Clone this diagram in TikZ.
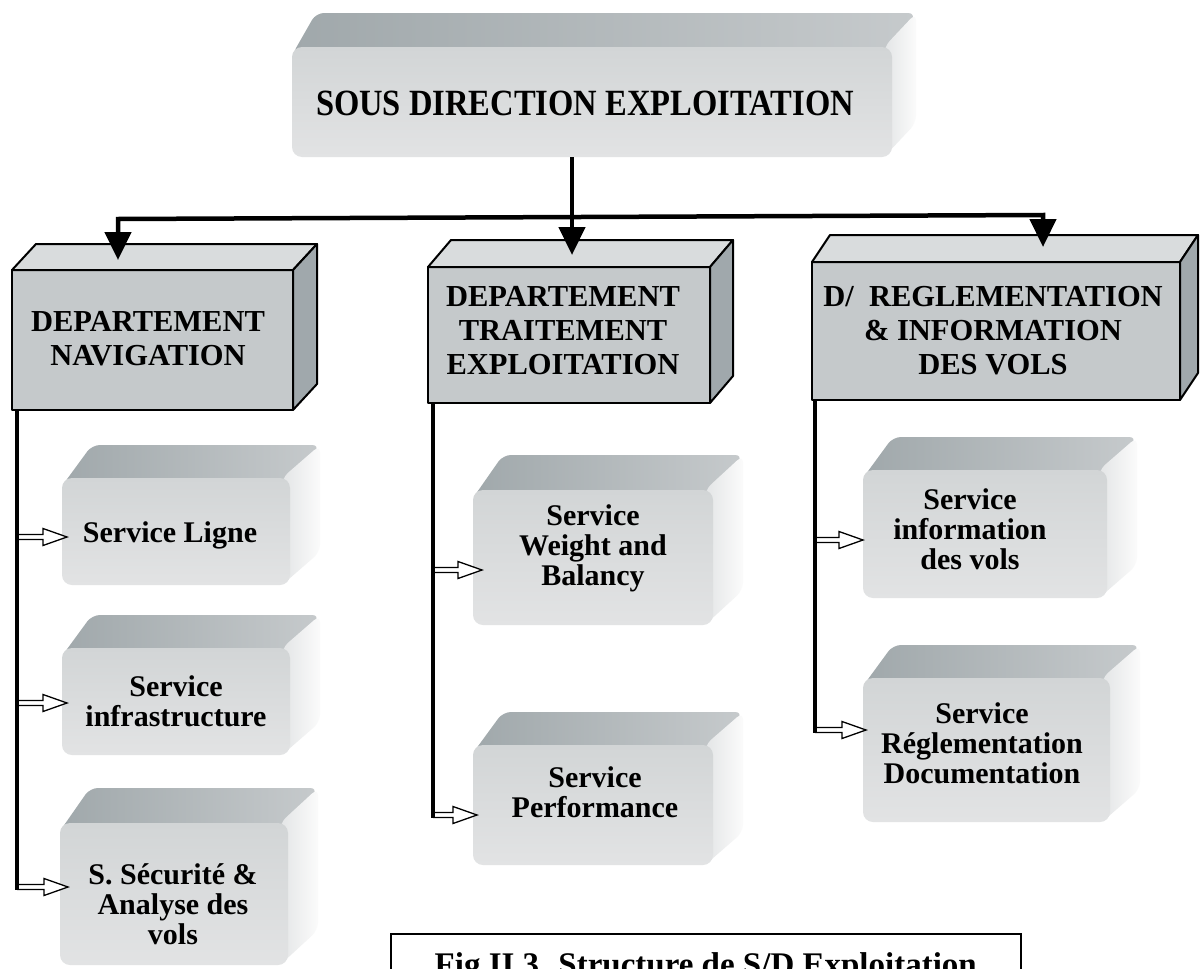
\documentclass[tikz,border=0pt]{standalone}
\usepackage{fontspec}
\setmainfont{Liberation Serif}
\usetikzlibrary{arrows.meta,calc,backgrounds}

\definecolor{deptfront}{HTML}{C5C9CB}
\definecolor{depttop}{HTML}{D9DCDD}
\definecolor{deptside}{HTML}{A0A8AC}
\definecolor{softfrontA}{HTML}{D2D5D6}
\definecolor{softfrontB}{HTML}{E2E3E4}
\definecolor{softtopA}{HTML}{A0A8AB}
\definecolor{softtopB}{HTML}{C6CACC}
\definecolor{softsideA}{HTML}{E3E5E6}
\definecolor{softsideB}{HTML}{FBFBFB}

\tikzset{
  lbl/.style={font=\bfseries\fontsize{30}{30}\selectfont, align=center, inner sep=0pt},
  deptlbl/.style={lbl, font=\bfseries\fontsize{30.5}{34}\selectfont},
  headlbl/.style={lbl, font=\bfseries\fontsize{37}{40}\selectfont, xscale=0.88},
  deptface/.style={draw=black, line width=2pt, line join=round, inner sep=0pt, outer sep=0pt},
  softface/.style={rounded corners=10pt, top color=softfrontA, bottom color=softfrontB,
                   inner sep=0pt, outer sep=0pt},
  conn/.style={line width=4.5pt, black, line join=miter},
  trunk/.style={line width=4.5pt, black},
  hollow/.style={draw=black, fill=white, line width=1.3pt, line join=miter},
  bigtip/.tip={Triangle[width=26pt,length=28pt]},
  captionbox/.style={draw=black, line width=1.5pt, inner sep=0pt,
                     font=\bfseries\fontsize{33}{36}\selectfont},
}

% outlined department block: name, x1, y1, x2, y2, depth x, depth y
\newcommand\deptbox[7]{%
  \node[deptface, fill=deptfront, anchor=north west,
        minimum width={(#4-#2)*1pt}, minimum height={(#5-#3)*1pt}] (#1) at (#2,#3) {};
  \draw[deptface, fill=depttop] (#1.north west) -- ($(#1.north west)+(#6,-#7)$)
      -- ($(#1.north east)+(#6,-#7)$) -- (#1.north east) -- cycle;
  \draw[deptface, fill=deptside] (#1.north east) -- ($(#1.north east)+(#6,-#7)$)
      -- ($(#1.south east)+(#6,-#7)$) -- (#1.south east) -- cycle;
}

% soft shaded block without outline: name, x1, y1, x2, y2, depth x, depth y
\newcommand\softbox[7]{%
  \node[softface, anchor=north west,
        minimum width={(#4-#2)*1pt}, minimum height={(#5-#3)*1pt}] (#1) at (#2,#3) {};
  \begin{scope}[on background layer]
    \shade[rounded corners=8pt, left color=softtopA, right color=softtopB]
      ($(#1.north west)+(0,8)$) -- ($(#1.north west)+(#6,-#7)$)
      -- ($(#1.north east)+(#6,-#7)$) -- ($(#1.north east)+(0,8)$) -- cycle;
    \shade[rounded corners=8pt, left color=softsideA, right color=softsideB]
      ($(#1.north east)+(-8,0)$) -- ($(#1.north east)+(#6,-#7)$)
      -- ($(#1.south east)+(#6,-#7)$) -- ($(#1.south east)+(-8,0)$) -- cycle;
  \end{scope}
}

% hollow block arrow from a trunk line to a tip point
\newcommand\openarrow[2]{%
  \draw[hollow] ($(#1 |- #2)+(0,-2.5)$) -- ($(#2)+(-24,-2.5)$) -- ($(#2)+(-24,-8.5)$)
    -- (#2) -- ($(#2)+(-24,8.5)$) -- ($(#2)+(-24,2.5)$) -- ($(#1 |- #2)+(0,2.5)$);
}

\begin{document}
\begin{tikzpicture}[x=1pt,y=-1pt]
\useasboundingbox (0,0) rectangle (1200,969);
\begin{scope}[on background layer]
  \fill[white] (0,0) rectangle (1200,969);
\end{scope}

% head of the structure
\softbox{T}{292}{47}{892}{157}{24}{34}
\node[headlbl] (tT) at (585,103) {SOUS DIRECTION EXPLOITATION};

% departments
\deptbox{D1}{12}{270}{293}{410}{24}{26}
\deptbox{D2}{428}{267}{710}{403}{23}{27}
\deptbox{D3}{812}{262}{1180}{400}{18}{27}
\node[deptlbl] (tD1) at (148,338.5) {DEPARTEMENT\\NAVIGATION};
\node[deptlbl] (tD2) at (563,331) {DEPARTEMENT\\TRAITEMENT\\EXPLOITATION};
\node[deptlbl] (tD3) at (993,331) {D/\ \ REGLEMENTATION\\\& INFORMATION\\DES VOLS};

% services
\softbox{sL}{62}{478}{290}{585}{30}{33}
\softbox{sI}{62}{648}{290}{755}{30}{33}
\softbox{sS}{60}{823}{288}{965}{30}{35}
\softbox{sW}{473}{490}{713}{625}{30}{35}
\softbox{sP}{473}{745}{713}{865}{30}{33}
\softbox{sN}{863}{470}{1107}{598}{30}{33}
\softbox{sR}{863}{678}{1110}{822}{30}{33}

\node[lbl] (tL) at (170,535) {Service Ligne};
\node[lbl] (tI) at (176,701) {Service\\infrastructure};
\node[lbl] (tS) at (173,904) {S. Sécurité \&\\Analyse des\\vols};
\node[lbl] (tW) at (593,548) {Service\\Weight and\\Balancy};
\node[lbl] (tP) at (595,792) {Service\\Performance};
\node[lbl] (tN) at (970,529) {Service\\information\\des vols};
\node[lbl] (tR) at (982,743) {Service\\Réglementation\\Documentation};

% distribution from the head to the departments
\coordinate (tip1) at (118,260);
\coordinate (bar1) at (118,219);
\coordinate (bar3) at (1043,215);
\coordinate (tip3) at (1043,247);
\coordinate (top2) at (572,157);
\coordinate (tip2) at (572,255);
\draw[conn, {bigtip}-{bigtip}] (tip1) -- (bar1) -- (bar3) -- (tip3);
\draw[conn, -{bigtip}] (top2) -- (tip2);

% department trunks and service arrows
\coordinate (k1) at ($(D1.south west)+(5,0)$);
\coordinate (k2) at ($(D2.south west)+(5,0)$);
\coordinate (k3) at ($(D3.south west)+(3,0)$);

\coordinate (aL) at ($(sL.west)+(5,5.5)$);
\coordinate (aI) at ($(sI.west)+(5,1.5)$);
\coordinate (aS) at ($(sS.west)+(8,-7)$);
\coordinate (aW) at ($(sW.west)+(9,12.5)$);
\coordinate (aP) at ($(sP.west)+(4,10)$);
\coordinate (aN) at ($(sN.west)+(0,6)$);
\coordinate (aR) at ($(sR.west)+(3,-20)$);

\openarrow{k1}{aL}
\openarrow{k1}{aI}
\openarrow{k1}{aS}
\openarrow{k2}{aW}
\openarrow{k2}{aP}
\openarrow{k3}{aN}
\openarrow{k3}{aR}

\draw[trunk] (k1) -- ($(k1 |- aS)+(0,2.5)$);
\draw[trunk] (k2) -- ($(k2 |- aP)+(0,2.5)$);
\draw[trunk] (k3) -- ($(k3 |- aR)+(0,2.5)$);

% caption
\node[captionbox, anchor=north west, minimum width=630pt, minimum height=68pt]
  (cap) at (390,933) {Fig II.3. Structure de S/D Exploitation};
\end{tikzpicture}
\end{document}
